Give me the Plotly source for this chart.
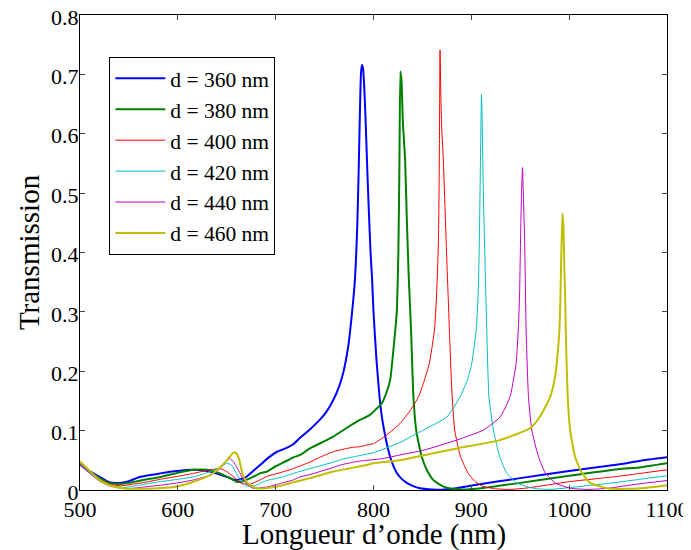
import plotly.graph_objects as go

# ---- data (wavelength nm, transmission) ----
wl_360 = [500, 510, 520, 530, 540, 550, 561, 582, 599, 616, 633, 643, 652, 658, 664, 670, 677, 684, 693, 701, 710, 718, 725, 735, 745, 752, 759, 765, 769, 774, 778, 781, 783.5, 785, 786.3, 787.3, 788.3, 789.3, 790.5, 792, 793.3, 795, 797, 798.6, 800, 803, 806, 808, 810.8, 814, 817, 820, 823.7, 828, 834, 840, 847.6, 860, 870, 881, 902, 950, 1000, 1050, 1072, 1100]
T_360 = [0.043, 0.032, 0.022, 0.013, 0.012, 0.015, 0.022, 0.028, 0.032, 0.034, 0.031, 0.026, 0.021, 0.017, 0.018, 0.022, 0.032, 0.042, 0.055, 0.064, 0.070, 0.077, 0.088, 0.102, 0.118, 0.132, 0.152, 0.175, 0.197, 0.24, 0.298, 0.354, 0.45, 0.55, 0.65, 0.705, 0.716, 0.71, 0.68, 0.62, 0.556, 0.48, 0.40, 0.354, 0.30, 0.22, 0.160, 0.13, 0.101, 0.075, 0.056, 0.042, 0.029, 0.02, 0.012, 0.007, 0.003, 0.001, 0.0005, 0.002, 0.008, 0.02, 0.032, 0.043, 0.049, 0.055]

wl_380 = [500, 510, 520, 530, 538, 550, 565, 582, 600, 616, 630, 643, 653, 660, 665, 670, 677, 684, 691, 700, 710, 718, 725, 735, 747, 759, 772, 786, 796, 802, 808.5, 813, 817, 820, 823.7, 825.4, 826.5, 827.5, 828.6, 830, 832.3, 834, 836, 838.4, 840.8, 843.6, 846, 849.3, 854.4, 861, 871, 880, 895, 910, 950, 1000, 1050, 1072, 1100]
T_380 = [0.044, 0.031, 0.02, 0.012, 0.010, 0.012, 0.017, 0.022, 0.029, 0.034, 0.034, 0.028, 0.02, 0.014, 0.014, 0.017, 0.022, 0.028, 0.031, 0.040, 0.048, 0.055, 0.059, 0.07, 0.08, 0.09, 0.104, 0.118, 0.126, 0.135, 0.146, 0.163, 0.185, 0.23, 0.298, 0.4, 0.55, 0.705, 0.69, 0.62, 0.556, 0.46, 0.36, 0.269, 0.157, 0.101, 0.08, 0.056, 0.034, 0.017, 0.006, 0.002, 0.001, 0.003, 0.012, 0.024, 0.035, 0.038, 0.045]

wl_400 = [500, 510, 520, 530, 541, 555, 570, 582, 600, 616, 633, 643, 650, 657, 665, 674, 684, 691, 700, 718, 735, 745, 759, 772.7, 779.5, 786, 796.5, 800, 813, 827, 838, 846, 852, 857, 862.3, 864.5, 866.4, 867.3, 868, 869, 870, 871.4, 874.2, 877.6, 880, 883, 889, 896.8, 904, 912, 925, 940, 960, 1000, 1050, 1072.6, 1100]
T_400 = [0.044, 0.030, 0.018, 0.01, 0.007, 0.01, 0.014, 0.018, 0.023, 0.028, 0.034, 0.036, 0.031, 0.022, 0.011, 0.010, 0.017, 0.023, 0.027, 0.036, 0.047, 0.055, 0.0645, 0.070, 0.072, 0.073, 0.077, 0.078, 0.092, 0.112, 0.135, 0.157, 0.185, 0.213, 0.269, 0.33, 0.421, 0.556, 0.741, 0.65, 0.60, 0.556, 0.421, 0.269, 0.17, 0.101, 0.056, 0.028, 0.014, 0.006, 0.002, 0.001, 0.004, 0.014, 0.023, 0.028, 0.034]

wl_420 = [500, 510, 520, 530, 544, 560, 582, 600, 616, 633, 643, 650, 655, 660, 664, 670, 678, 691, 705, 718, 735, 759, 766, 783, 800, 827, 851, 875, 888.5, 896, 900.4, 905, 907, 908.2, 909.3, 910.4, 911.3, 912.3, 913.4, 915.8, 918, 922.6, 929, 936, 946.4, 963, 980, 1000, 1050, 1072, 1100]
T_420 = [0.043, 0.029, 0.016, 0.008, 0.004, 0.008, 0.014, 0.018, 0.022, 0.031, 0.038, 0.045, 0.042, 0.028, 0.017, 0.007, 0.007, 0.016, 0.021, 0.028, 0.036, 0.047, 0.051, 0.057, 0.063, 0.08, 0.101, 0.123, 0.157, 0.185, 0.213, 0.269, 0.33, 0.421, 0.55, 0.666, 0.6, 0.5, 0.421, 0.269, 0.157, 0.101, 0.056, 0.029, 0.012, 0.003, 0.001, 0.004, 0.013, 0.018, 0.024]

wl_440 = [500, 510, 520, 530, 547.7, 565, 582, 600, 616, 633, 643, 648, 653, 657, 660, 664, 667, 672, 677, 691, 705, 718, 725, 735, 759, 766, 783, 793, 810, 827, 851, 885, 912.4, 929.4, 939.6, 943, 945.8, 948, 949.3, 950.3, 951.3, 952.3, 953.3, 954.5, 956, 958.4, 961.8, 968.6, 975.5, 985.7, 1001, 1020, 1040, 1070, 1100]
T_440 = [0.042, 0.028, 0.015, 0.007, 0.002, 0.005, 0.008, 0.012, 0.017, 0.025, 0.036, 0.045, 0.053, 0.047, 0.039, 0.027, 0.017, 0.008, 0.003, 0.005, 0.011, 0.017, 0.022, 0.026, 0.038, 0.042, 0.048, 0.05, 0.053, 0.059, 0.067, 0.084, 0.101, 0.123, 0.157, 0.185, 0.213, 0.269, 0.33, 0.421, 0.5, 0.543, 0.49, 0.421, 0.269, 0.157, 0.101, 0.056, 0.029, 0.012, 0.003, 0.001, 0.003, 0.01, 0.016]

wl_460 = [500, 510, 520, 530, 545, 558, 580, 599, 616, 633, 643, 650, 655, 657, 660, 663, 665, 668, 670, 675, 680.6, 691, 705, 718, 735, 759, 793, 800, 827, 844, 885, 929, 960, 970, 980.6, 985, 987.3, 990, 991, 992, 993.2, 994.2, 995, 996, 996.5, 998.5, 1001, 1006, 1013, 1021.5, 1038.5, 1060, 1080, 1100]
T_460 = [0.048, 0.032, 0.017, 0.008, 0.003, 0.002, 0.003, 0.006, 0.014, 0.025, 0.038, 0.05, 0.06, 0.063, 0.062, 0.05, 0.034, 0.02, 0.014, 0.007, 0.003, 0.003, 0.007, 0.013, 0.02, 0.031, 0.042, 0.045, 0.050, 0.056, 0.070, 0.084, 0.104, 0.123, 0.157, 0.185, 0.213, 0.269, 0.32, 0.4, 0.466, 0.44, 0.38, 0.32, 0.269, 0.157, 0.101, 0.056, 0.029, 0.012, 0.003, 0.002, 0.004, 0.008]

series_names = ["d = 360 nm", "d = 380 nm", "d = 400 nm", "d = 420 nm", "d = 440 nm", "d = 460 nm"]
x_ticks = [500, 600, 700, 800, 900, 1000, 1100]
y_ticks = [0, 0.1, 0.2, 0.3, 0.4, 0.5, 0.6, 0.7, 0.8]
y_tick_labels = ["0", "0.1", "0.2", "0.3", "0.4", "0.5", "0.6", "0.7", "0.8"]
x_title = "Longueur d\u2019onde (nm)"
y_title = "Transmission"

xs = [wl_360, wl_380, wl_400, wl_420, wl_440, wl_460]
ys = [T_360, T_380, T_400, T_420, T_440, T_460]
colors = ["#0000FF", "#008000", "#FF0000", "#00BFBF", "#BF00BF", "#BFBF00"]
widths = [2, 2, 1, 1, 1, 2]

fig = go.Figure()
for x, y, n, c, w in zip(xs, ys, series_names, colors, widths):
    fig.add_trace(go.Scatter(x=x, y=y, mode="lines", name=n,
                             line=dict(color=c, width=w, shape="spline", smoothing=0.5)))

font = "Liberation Serif"
fig.update_layout(
    width=691, height=550,
    margin=dict(l=72, r=32, t=7, b=68),
    paper_bgcolor="white", plot_bgcolor="white",
    font=dict(family=font, size=22, color="black"),
    showlegend=True,
    legend=dict(x=0.050, y=0.912, xanchor="left", yanchor="top",
                bgcolor="white", bordercolor="black", borderwidth=1,
                itemwidth=50,
                font=dict(family=font, size=21.5, color="black"), tracegroupgap=0),
    xaxis=dict(range=[500, 1100], tickvals=x_ticks, ticks="inside", ticklen=5,
               showline=True, linecolor="black", linewidth=1, mirror="ticks",
               showgrid=False, zeroline=False, automargin=False,
               ticklabelstandoff=0, ticklabeloverflow="allow",
               tickfont=dict(family=font, size=22, color="black")),
    yaxis=dict(range=[0, 0.8], tickvals=y_ticks, ticktext=y_tick_labels, ticks="inside", ticklen=5,
               showline=True, linecolor="black", linewidth=1, mirror="ticks",
               showgrid=False, zeroline=False, automargin=False,
               ticklabelstandoff=-4, ticklabelshift=2, ticklabeloverflow="allow",
               tickfont=dict(family=font, size=22, color="black"),
               title=dict(text=y_title, font=dict(family=font, size=29, color="black"), standoff=2)),
    annotations=[dict(text=x_title, xref="paper", yref="paper", x=0.5, y=0,
                      xanchor="center", yanchor="middle", yshift=-44, showarrow=False,
                      font=dict(family=font, size=29, color="black"))],
)

fig.write_html("out.html")
